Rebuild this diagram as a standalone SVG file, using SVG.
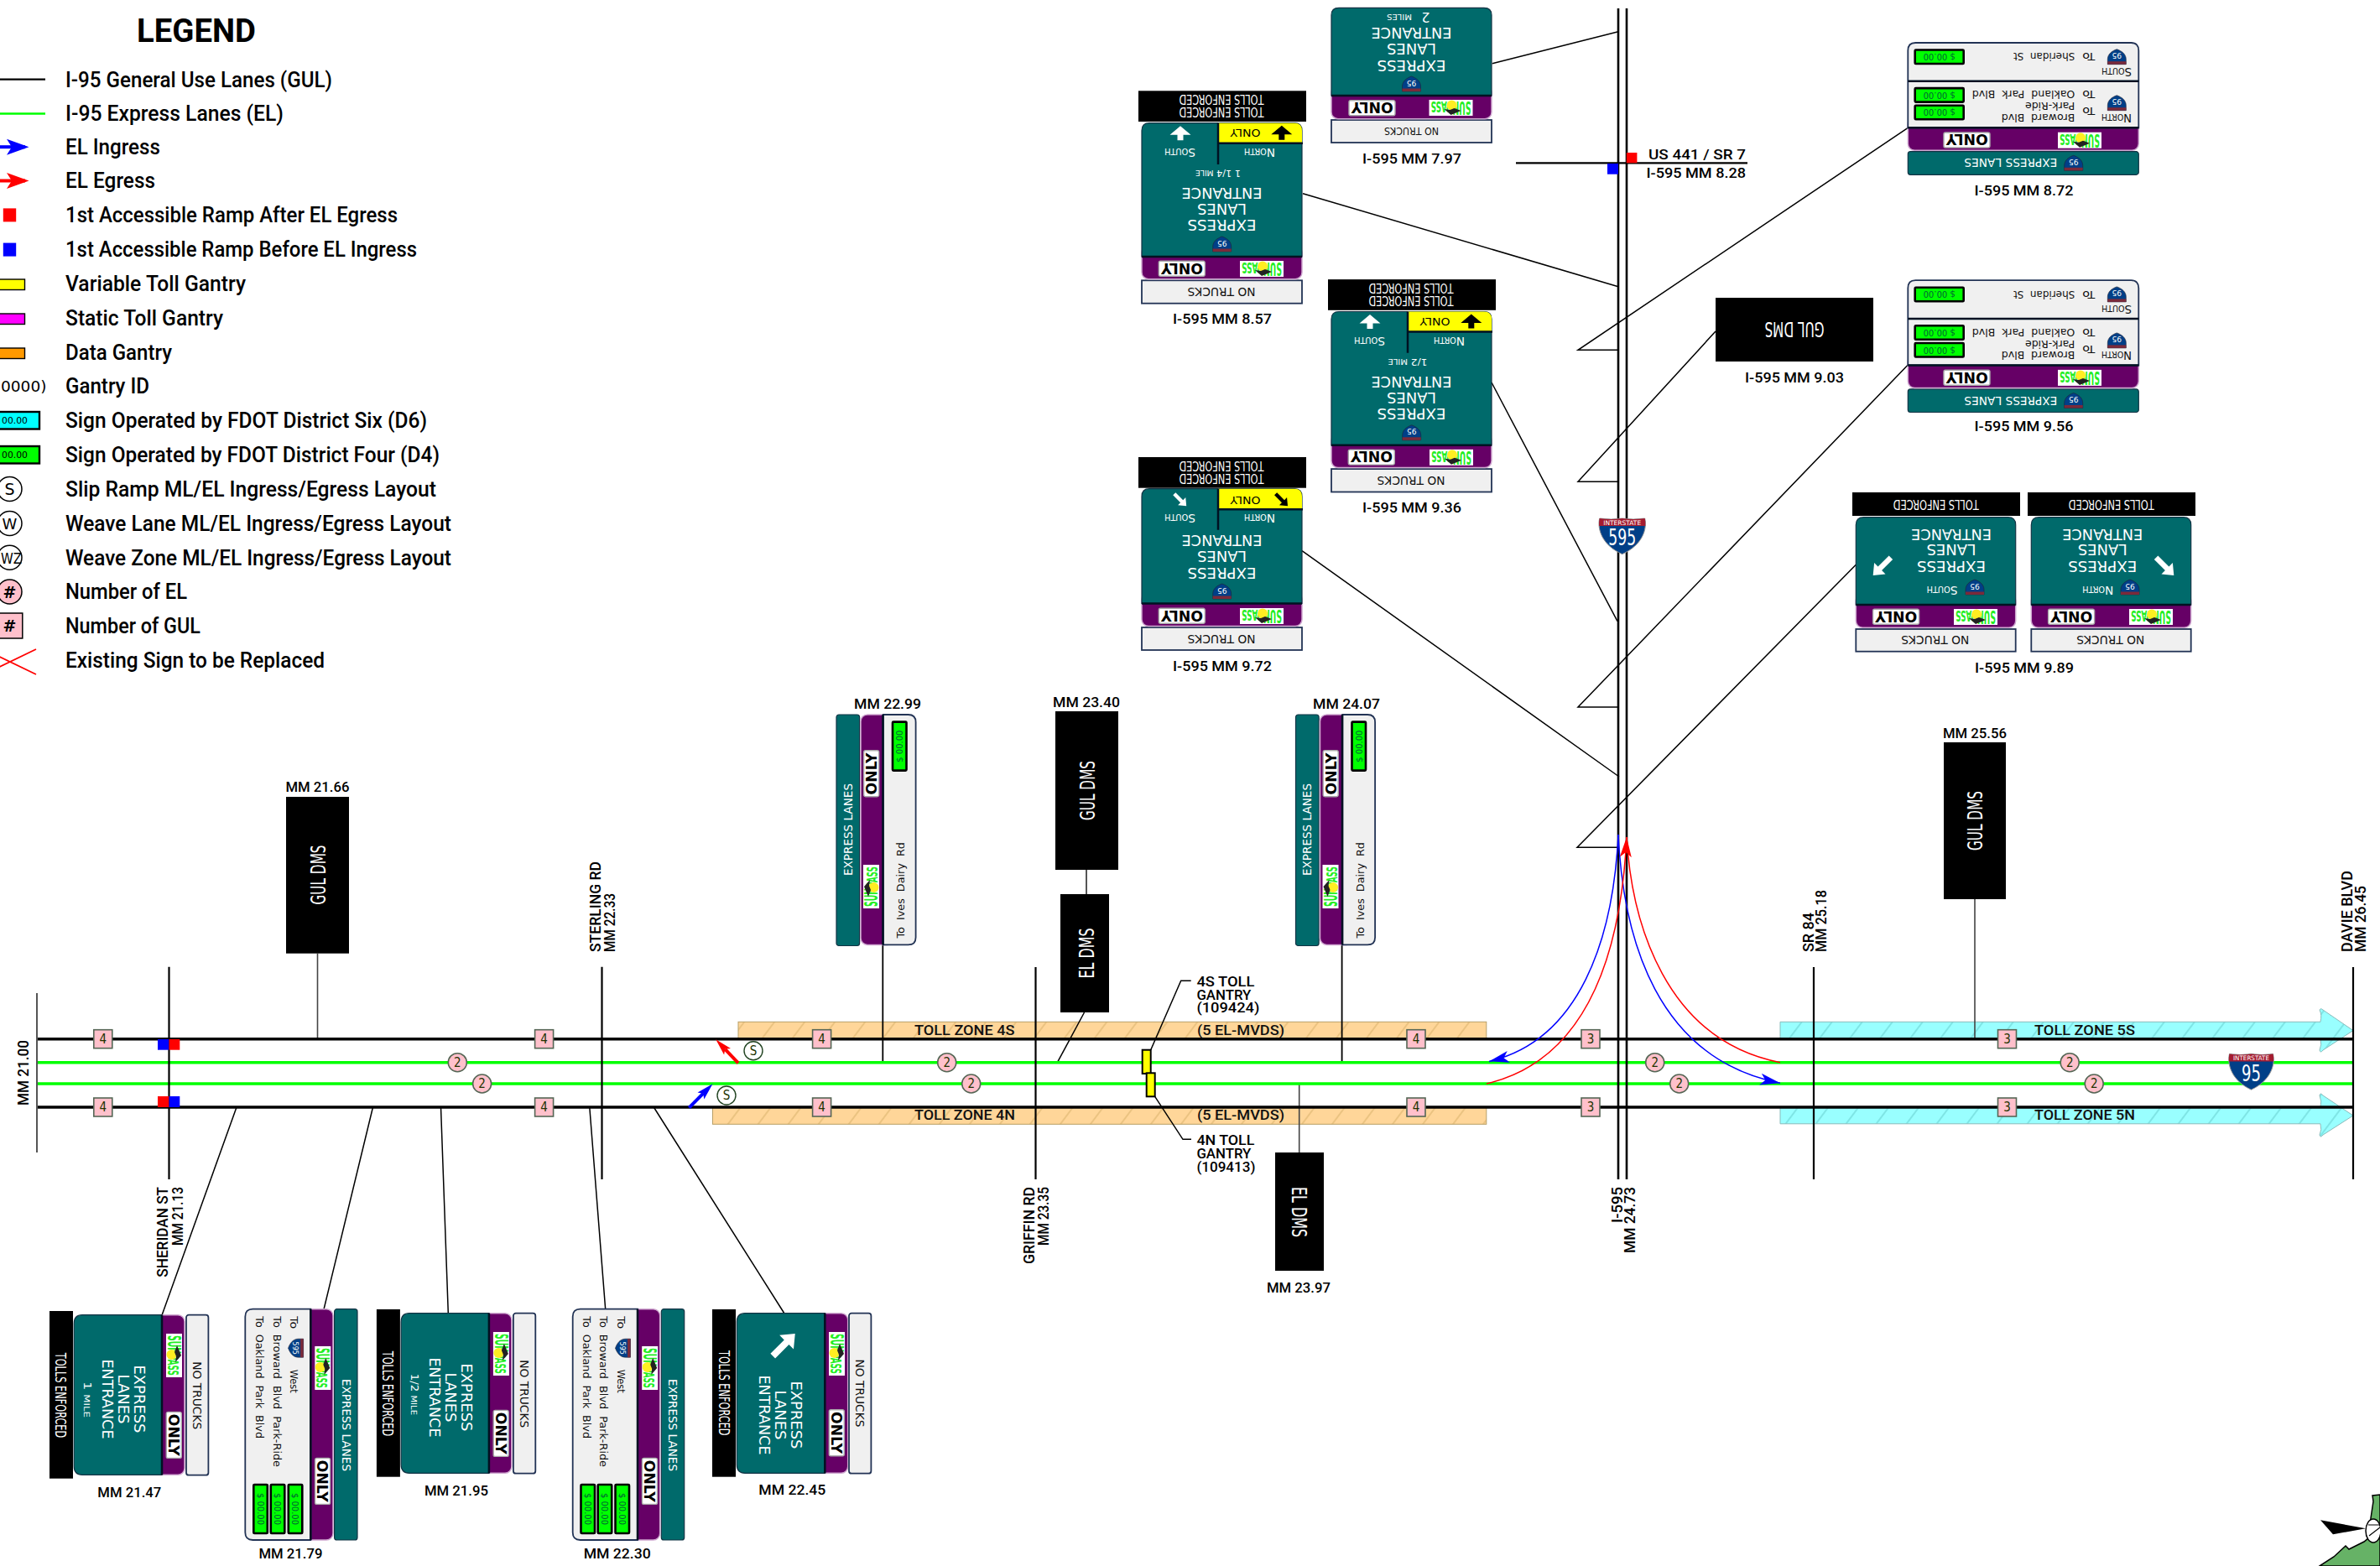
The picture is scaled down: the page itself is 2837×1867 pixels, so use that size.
<svg xmlns="http://www.w3.org/2000/svg" xmlns:xlink="http://www.w3.org/1999/xlink" width="2837" height="1867" viewBox="0 0 2837 1867">
<style>
text{font-family:"DejaVu Sans",sans-serif;fill:#000}
.r{font-family:Roboto,"DejaVu Sans",sans-serif;font-weight:500}
.lg{font-size:25px}
.m{text-anchor:middle}
.e{text-anchor:end}
.lb{font-size:16px}
.rd{font-size:18px}
.w{fill:#fff}
.big{font-size:18.5px;fill:#fff;text-anchor:middle}
.nt{font-size:14px;text-anchor:middle;fill:#111}
.te{font-size:16px;fill:#fff;text-anchor:middle;font-stretch:condensed}
.el{font-size:14px;fill:#fff;text-anchor:middle}
.sc{font-size:14px;fill:#fff;text-anchor:middle;font-variant:small-caps}
.sg{font-size:13px;fill:#111;word-spacing:4px}
.dms{font-size:25px;fill:#fff;text-anchor:middle;font-stretch:condensed}
.tz{font-size:16px;fill:#111}
.pt{font-size:10px;text-anchor:middle;fill:#063}
.nm{font-size:15px;text-anchor:middle;fill:#230;font-stretch:condensed}
.g{fill:#006a6b;stroke:#134;stroke-width:1.2}
.p{fill:#660066;stroke:#cfa8d0;stroke-width:1.5}
.n{fill:#f0f0f0;stroke:#235;stroke-width:1.8}
.k{fill:#000}
.dv{stroke:#012;stroke-width:2.5;fill:none}
.gul{stroke:#000;stroke-width:3.5;fill:none}
.el-line{stroke:#00ff00;stroke-width:3.5;fill:none}
.x{stroke:#000;stroke-width:2.2;fill:none}
.ld{stroke:#000;stroke-width:1.5;fill:none}
.st{stroke:#444;stroke-width:1.6;fill:none}
.sq{fill:#ffc0cb;stroke:#565;stroke-width:1.6}
</style>
<defs>
<pattern id="hO" width="28.8" height="10" patternUnits="userSpaceOnUse" patternTransform="rotate(36.9)"><rect width="28.8" height="10" fill="#ffd699"/><path d="M1 0V10" stroke="#d8b06a" stroke-width="1"/></pattern>
<pattern id="hC" width="28.8" height="10" patternUnits="userSpaceOnUse" patternTransform="rotate(36.9)"><rect width="28.8" height="10" fill="#99ffff"/><path d="M1 0V10" stroke="#66cccc" stroke-width="1"/></pattern>
<marker id="mB" markerUnits="userSpaceOnUse" markerWidth="24" markerHeight="14" viewBox="0 0 24 14" refX="24" refY="7" orient="auto"><path d="M0 0L24 7L0 14L6 7Z" fill="#0000ff"/></marker>
<marker id="mR" markerUnits="userSpaceOnUse" markerWidth="24" markerHeight="14" viewBox="0 0 24 14" refX="24" refY="7" orient="auto"><path d="M0 0L24 7L0 14L6 7Z" fill="#ff0000"/></marker>
<g id="only"><rect x=".7" y=".7" width="55" height="18" rx="2" fill="#fff" stroke="#aaa" stroke-width="1.4"/><text x="28" y="16.3" class="m" font-weight="700" font-size="18" textLength="50" lengthAdjust="spacingAndGlyphs">ONLY</text></g>
<g id="sp"><rect width="52" height="19" fill="#fff"/><text x="2" y="17" font-weight="700" font-size="21" style="fill:#22ee22" textLength="22" lengthAdjust="spacingAndGlyphs">SUN</text><text x="25" y="17" font-weight="700" font-size="18" style="fill:#22ee22" textLength="25" lengthAdjust="spacingAndGlyphs">PASS</text><circle cx="25" cy="12.5" r="6" fill="#ffee22"/><path d="M14 6L26 1L34 8L27 7L22 9Z" fill="#222"/></g>
<g id="s95"><path d="M-11 0H11V6C11 12 6 16 0 18C-6 16 -11 12 -11 6Z" fill="#003f87" stroke="#223" stroke-width=".6"/><rect x="-11" y="0" width="22" height="3.5" fill="#7a2a3a"/><text x="0" y="13.5" class="m w" font-size="9" style="fill:#fff">95</text></g>
<g id="s595"><path d="M-11 0H11V6C11 12 6 16 0 18C-6 16 -11 12 -11 6Z" fill="#003f87" stroke="#223" stroke-width=".6"/><rect x="-11" y="0" width="22" height="3.5" fill="#7a2a3a"/><text x="0" y="13" class="m" font-size="8" style="fill:#fff">595</text></g>
<path id="ar" d="M0 -8.5L12.5 2L3.5 2L3.5 8.5L-3.5 8.5L-3.5 2L-12.5 2Z"/>
<path id="ad" d="M0 -15L9.5 -3.5H3.2V15H-3.2V-3.5H-9.5Z"/>
<g id="pr"><rect width="58" height="16.5" rx="1" fill="#00ff00" stroke="#000" stroke-width="2.6"/><text x="29" y="12" class="pt">$ 00.00</text></g>
</defs>
<rect width="2837" height="1867" fill="#fff"/>

<g id="legend">
<text x="163" y="50" class="r" font-size="38" style="font-weight:700" textLength="142" lengthAdjust="spacingAndGlyphs">LEGEND</text>
<path d="M0 94.7H54" stroke="#000" stroke-width="2.2"/>
<path d="M0 135.5H54" stroke="#00ff00" stroke-width="2.6"/>
<path d="M0 175.2H30" stroke="#0000ff" stroke-width="4"/><path d="M8 165.7L34.5 175.2L8 184.7L14 175.2Z" fill="#0000ff"/>
<path d="M0 215.5H30" stroke="#ff0000" stroke-width="4"/><path d="M8 206L34.5 215.5L8 225L14 215.5Z" fill="#ff0000"/>
<rect x="3.8" y="248.4" width="15.4" height="16" fill="#ff0000"/>
<rect x="3.8" y="289.6" width="15.4" height="16" fill="#0000ff"/>
<rect x="-2" y="333" width="31.5" height="12.5" fill="#ffff00" stroke="#000" stroke-width="1.4"/>
<rect x="-2" y="374" width="31.5" height="12.5" fill="#ff00ff" stroke="#000" stroke-width="1.4"/>
<rect x="-2" y="415" width="31.5" height="12.5" fill="#ff9900" stroke="#000" stroke-width="1.4"/>
<text x="1" y="467" font-size="17" textLength="54.5" lengthAdjust="spacingAndGlyphs">0000)</text>
<rect x="-2" y="491" width="49" height="20.5" fill="#00ffff" stroke="#000" stroke-width="2.4"/><text x="2" y="505" font-size="11" textLength="31" lengthAdjust="spacingAndGlyphs">00.00</text>
<rect x="-2" y="532" width="49" height="20.5" fill="#00ff00" stroke="#000" stroke-width="2.4"/><text x="2" y="546" font-size="11" textLength="31" lengthAdjust="spacingAndGlyphs">00.00</text>
<circle cx="11.5" cy="583" r="14.5" fill="#fff" stroke="#000" stroke-width="1.5"/><text x="11.5" y="590" class="m" font-size="19">S</text>
<circle cx="11.5" cy="624" r="14.5" fill="#fff" stroke="#000" stroke-width="1.5"/><text x="11.5" y="631" class="m" font-size="18">W</text>
<circle cx="11.5" cy="664.8" r="14.5" fill="#fff" stroke="#000" stroke-width="1.5"/><text x="1" y="671.5" font-size="18" textLength="25" lengthAdjust="spacingAndGlyphs">WZ</text>
<circle cx="11.5" cy="705.5" r="14.5" fill="#ffc0cb" stroke="#000" stroke-width="1.5"/><text x="11.5" y="712.5" class="m" font-size="19" font-weight="700">#</text>
<rect x="-2" y="731" width="28.8" height="30" fill="#ffc0cb" stroke="#000" stroke-width="1.5"/><text x="11.5" y="753" class="m" font-size="19" font-weight="700">#</text>
<path d="M43 774L-19 804M43 804L-19 774" stroke="#ff0000" stroke-width="1.8"/>
<text x="78" y="103.5" class="r lg" textLength="318" lengthAdjust="spacingAndGlyphs">I-95 General Use Lanes (GUL)</text>
<text x="78" y="144.3" class="r lg" textLength="260" lengthAdjust="spacingAndGlyphs">I-95 Express Lanes (EL)</text>
<text x="78" y="184" class="r lg" textLength="113" lengthAdjust="spacingAndGlyphs">EL Ingress</text>
<text x="78" y="224.3" class="r lg" textLength="107" lengthAdjust="spacingAndGlyphs">EL Egress</text>
<text x="78" y="265" class="r lg" textLength="396" lengthAdjust="spacingAndGlyphs">1st Accessible Ramp After EL Egress</text>
<text x="78" y="306.3" class="r lg" textLength="419" lengthAdjust="spacingAndGlyphs">1st Accessible Ramp Before EL Ingress</text>
<text x="78" y="347" class="r lg" textLength="215" lengthAdjust="spacingAndGlyphs">Variable Toll Gantry</text>
<text x="78" y="388" class="r lg" textLength="188" lengthAdjust="spacingAndGlyphs">Static Toll Gantry</text>
<text x="78" y="428.7" class="r lg" textLength="127" lengthAdjust="spacingAndGlyphs">Data Gantry</text>
<text x="78" y="469" class="r lg" textLength="100" lengthAdjust="spacingAndGlyphs">Gantry ID</text>
<text x="78" y="510" class="r lg" textLength="431" lengthAdjust="spacingAndGlyphs">Sign Operated by FDOT District Six (D6)</text>
<text x="78" y="551" class="r lg" textLength="446" lengthAdjust="spacingAndGlyphs">Sign Operated by FDOT District Four (D4)</text>
<text x="78" y="591.7" class="r lg" textLength="442" lengthAdjust="spacingAndGlyphs">Slip Ramp ML/EL Ingress/Egress Layout</text>
<text x="78" y="632.7" class="r lg" textLength="460" lengthAdjust="spacingAndGlyphs">Weave Lane ML/EL Ingress/Egress Layout</text>
<text x="78" y="673.5" class="r lg" textLength="460" lengthAdjust="spacingAndGlyphs">Weave Zone ML/EL Ingress/Egress Layout</text>
<text x="78" y="714.2" class="r lg" textLength="145" lengthAdjust="spacingAndGlyphs">Number of EL</text>
<text x="78" y="755" class="r lg" textLength="161" lengthAdjust="spacingAndGlyphs">Number of GUL</text>
<text x="78" y="795.7" class="r lg" textLength="309" lengthAdjust="spacingAndGlyphs">Existing Sign to be Replaced</text>
</g>

<g id="toll-zones">
<rect x="880" y="1218.3" width="891.8" height="20.4" fill="url(#hO)" stroke="#b89f66" stroke-width="1"/>
<rect x="849.5" y="1320" width="922.3" height="20.3" fill="url(#hO)" stroke="#b89f66" stroke-width="1"/>
<path d="M2122 1218.3H2766Q2768 1210 2765 1204Q2766 1201 2769 1204L2805 1228.6L2769 1252Q2766 1256 2765 1252Q2768 1245 2766 1238.7H2122Z" fill="url(#hC)" stroke="#88bbbb" stroke-width="1"/>
<path d="M2122 1339.8H2766Q2768 1347 2765 1353Q2766 1357 2769 1353L2805 1330L2769 1306Q2766 1302 2765 1306Q2768 1313 2766 1320H2122Z" fill="url(#hC)" stroke="#88bbbb" stroke-width="1"/>
<text x="1090" y="1234" class="r tz" textLength="119.5" lengthAdjust="spacingAndGlyphs">TOLL ZONE 4S</text>
<text x="1427" y="1234" class="r tz" textLength="104" lengthAdjust="spacingAndGlyphs">(5 EL-MVDS)</text>
<text x="1090" y="1335.3" class="r tz" textLength="120" lengthAdjust="spacingAndGlyphs">TOLL ZONE 4N</text>
<text x="1427" y="1335.3" class="r tz" textLength="104" lengthAdjust="spacingAndGlyphs">(5 EL-MVDS)</text>
<text x="2425" y="1234.4" class="r tz" textLength="120" lengthAdjust="spacingAndGlyphs">TOLL ZONE 5S</text>
<text x="2425" y="1335.3" class="r tz" textLength="120" lengthAdjust="spacingAndGlyphs">TOLL ZONE 5N</text>
</g>

<g id="connectors">
<path class="ld" d="M282 1320L193 1568M444.5 1320L386 1561M525.5 1320L534.3 1566M702.8 1320L721.7 1561M779.3 1320L935 1566"/>
<path class="st" d="M378.5 1136.7V1238.7M2354 1072V1238.7M1548.7 1292V1374"/>
<path d="M1295 1037V1066" stroke="#555" stroke-width="2"/>
<path class="ld" d="M1292.5 1207L1260.4 1266.7"/>
<path class="x" d="M1052.3 1126V1266.4M1599.6 1126V1266.4" style="stroke-width:1.8"/>
<path class="ld" d="M1371.7 1251.7L1407.7 1169.3H1419.7M1376.7 1307.3L1410 1358.3H1420"/>
<path class="ld" d="M1778.8 75.7L1929 37.7M1553 230.7L1929 341.7M2274.3 152.3L1881 417.3H1929M2045 395L1881 574.3H1929M2274.3 435L1881 843H1929M1778 456L1928 740.7M1552 656.7L1930 926M2212.3 673.3L1880 1010.3H1929"/>
</g>

<g id="roads">
<path class="el-line" d="M44 1266.7H2805M44 1292H2805"/>
<path class="gul" d="M44 1238.7H2805M44 1320H2805"/>
<path d="M44 1184V1374" stroke="#555" stroke-width="2"/>
<path class="x" d="M201.5 1152.7V1406M717.5 1152.7V1406M1234.5 1153V1406M2162 1153V1406M2805 1153V1406"/>
<path class="x" d="M1929 10V1406M1939 10V1406" style="stroke-width:2.6"/>
<path d="M1807 194.3H2083" stroke="#000" stroke-width="2.2"/>
<rect x="188" y="1239" width="13.5" height="12.7" fill="#0000ff"/><rect x="201.5" y="1239" width="12.8" height="12.7" fill="#ff0000"/>
<rect x="188" y="1307" width="13.5" height="13" fill="#ff0000"/><rect x="201.5" y="1307" width="12.8" height="13" fill="#0000ff"/>
<rect x="1938.8" y="182" width="12.6" height="12.3" fill="#ff0000"/><rect x="1916" y="195" width="13" height="12.7" fill="#0000ff"/>
</g>

<g id="ramps">
<path d="M1929 995C1923 1120 1883 1240 1775 1265.4" fill="none" stroke="#0000ff" stroke-width="1.5" marker-end="url(#mB)"/>
<path d="M1929 995C1935 1120 1975 1262 2122 1291.3" fill="none" stroke="#0000ff" stroke-width="1.5" marker-end="url(#mB)"/>
<path d="M1772 1292C1900 1262 1933 1120 1939 998" fill="none" stroke="#ff0000" stroke-width="1.5" marker-end="url(#mR)"/>
<path d="M2122 1266.7C1985 1240 1945 1100 1939 998" fill="none" stroke="#ff0000" stroke-width="1.5"/>
<path d="M880 1267.3L864.3 1250.8" stroke="#ff0000" stroke-width="4"/>
<path d="M853.3 1239.3L871 1249.9L864.3 1250.8L863.1 1257.5Z" fill="#ff0000"/>
<path d="M821.4 1320.7L838.2 1303.7" stroke="#0000ff" stroke-width="4"/>
<path d="M849.5 1292.3L839.3 1310.4L838.2 1303.7L831.5 1302.6Z" fill="#0000ff"/>
</g>

<g id="lane-counts">
<g class="sq">
<rect x="111.8" y="1227.7" width="22" height="22"/><rect x="111.8" y="1309" width="22" height="22"/>
<rect x="637.6" y="1227.7" width="22" height="22"/><rect x="637.6" y="1309" width="22" height="22"/>
<rect x="968.6" y="1227.7" width="22" height="22"/><rect x="968.6" y="1309" width="22" height="22"/>
<rect x="1677" y="1227.7" width="22" height="22"/><rect x="1677" y="1309" width="22" height="22"/>
<rect x="1885" y="1227.7" width="22" height="22"/><rect x="1885" y="1309" width="22" height="22"/>
<rect x="2381.5" y="1227.7" width="22" height="22"/><rect x="2381.5" y="1309" width="22" height="22"/>
<circle cx="545.3" cy="1266.7" r="11"/><circle cx="574.6" cy="1292" r="11"/>
<circle cx="1128.7" cy="1266.7" r="11"/><circle cx="1157.7" cy="1292" r="11"/>
<circle cx="1972.7" cy="1266.7" r="11"/><circle cx="2001.7" cy="1292" r="11"/>
<circle cx="2467.2" cy="1266.7" r="11"/><circle cx="2496.2" cy="1292" r="11"/>
</g>
<circle cx="898" cy="1252.7" r="11" fill="#fff" stroke="#242" stroke-width="1.4"/><circle cx="866" cy="1306" r="11" fill="#fff" stroke="#242" stroke-width="1.4"/>
<text x="122.8" y="1244" class="nm">4</text><text x="122.8" y="1325.3" class="nm">4</text>
<text x="648.6" y="1244" class="nm">4</text><text x="648.6" y="1325.3" class="nm">4</text>
<text x="979.6" y="1244" class="nm">4</text><text x="979.6" y="1325.3" class="nm">4</text>
<text x="1688" y="1244" class="nm">4</text><text x="1688" y="1325.3" class="nm">4</text>
<text x="1896" y="1244" class="nm">3</text><text x="1896" y="1325.3" class="nm">3</text>
<text x="2392.5" y="1244" class="nm">3</text><text x="2392.5" y="1325.3" class="nm">3</text>
<text x="545.3" y="1272" class="nm">2</text><text x="574.6" y="1297.3" class="nm">2</text>
<text x="1128.7" y="1272" class="nm">2</text><text x="1157.7" y="1297.3" class="nm">2</text>
<text x="1972.7" y="1272" class="nm">2</text><text x="2001.7" y="1297.3" class="nm">2</text>
<text x="2467.2" y="1272" class="nm">2</text><text x="2496.2" y="1297.3" class="nm">2</text>
<text x="898" y="1258" class="nm">S</text><text x="866" y="1311.3" class="nm">S</text>
</g>

<g id="gantries">
<rect x="1361.7" y="1251.7" width="10" height="28.3" fill="#ffff00" stroke="#000" stroke-width="2"/>
<rect x="1366.7" y="1279.3" width="10" height="28" fill="#ffff00" stroke="#000" stroke-width="2"/>
<text x="1426.4" y="1176.4" class="r lb" textLength="69" lengthAdjust="spacingAndGlyphs">4S TOLL</text>
<text x="1426.4" y="1192" class="r lb" textLength="65" lengthAdjust="spacingAndGlyphs">GANTRY</text>
<text x="1426.4" y="1206.8" class="r lb" textLength="75" lengthAdjust="spacingAndGlyphs">(109424)</text>
<text x="1426.4" y="1365" class="r lb" textLength="69" lengthAdjust="spacingAndGlyphs">4N TOLL</text>
<text x="1426.4" y="1381" class="r lb" textLength="65" lengthAdjust="spacingAndGlyphs">GANTRY</text>
<text x="1426.4" y="1396.5" class="r lb" textLength="70" lengthAdjust="spacingAndGlyphs">(109413)</text>
</g>

<g id="road-labels">
<text transform="translate(34,1279) rotate(-90)" class="r rd m" textLength="78" lengthAdjust="spacingAndGlyphs">MM 21.00</text>
<text transform="translate(200,1415) rotate(-90)" class="r rd e" textLength="107.7" lengthAdjust="spacingAndGlyphs">SHERIDAN ST</text>
<text transform="translate(218,1415) rotate(-90)" class="r rd e" textLength="70" lengthAdjust="spacingAndGlyphs">MM 21.13</text>
<text transform="translate(716,1135) rotate(-90)" class="r rd" textLength="108" lengthAdjust="spacingAndGlyphs">STERLING RD</text>
<text transform="translate(733,1135) rotate(-90)" class="r rd" textLength="70" lengthAdjust="spacingAndGlyphs">MM 22.33</text>
<text transform="translate(1233,1415) rotate(-90)" class="r rd e" textLength="92" lengthAdjust="spacingAndGlyphs">GRIFFIN RD</text>
<text transform="translate(1250,1415) rotate(-90)" class="r rd e" textLength="70" lengthAdjust="spacingAndGlyphs">MM 23.35</text>
<text transform="translate(1933.5,1415) rotate(-90)" class="r rd e" textLength="43" lengthAdjust="spacingAndGlyphs">I-595</text>
<text transform="translate(1949,1415) rotate(-90)" class="r rd e" textLength="79" lengthAdjust="spacingAndGlyphs">MM 24.73</text>
<text transform="translate(2162,1135) rotate(-90)" class="r rd" textLength="47" lengthAdjust="spacingAndGlyphs">SR 84</text>
<text transform="translate(2177,1135) rotate(-90)" class="r rd" textLength="74" lengthAdjust="spacingAndGlyphs">MM 25.18</text>
<text transform="translate(2804,1135) rotate(-90)" class="r rd" textLength="97" lengthAdjust="spacingAndGlyphs">DAVIE BLVD</text>
<text transform="translate(2820,1135) rotate(-90)" class="r rd" textLength="79" lengthAdjust="spacingAndGlyphs">MM 26.45</text>
<text x="1965" y="189.5" class="r lb" textLength="116" lengthAdjust="spacingAndGlyphs">US 441 / SR 7</text>
<text x="1962.5" y="211.7" class="r lb" textLength="118.5" lengthAdjust="spacingAndGlyphs">I-595 MM 8.28</text>
</g>

<g id="shield-595"><g transform="translate(1933.7,617)"><path d="M-27 1Q-13 3 0 1Q13 3 27 1C30 14 24 33 0 43.7C-24 33 -30 14 -27 1Z" fill="#003f87" stroke="#999" stroke-width="1"/><path d="M-27 1Q-13 3 0 1Q13 3 27 1Q28 5 27.6 10H-27.6Q-28 5 -27 1Z" fill="#a51c30"/><text x="0" y="8.7" class="m" font-size="7.5" style="fill:#fff" textLength="45" lengthAdjust="spacingAndGlyphs">INTERSTATE</text><text x="0" y="33" class="m" font-size="27" style="fill:#fff" textLength="33" lengthAdjust="spacingAndGlyphs">595</text></g></g>
<g id="shield-95"><g transform="translate(2683.5,1255.5)"><path d="M-26 1Q-13 3 0 1Q13 3 26 1C29 14 23 33 0 43.7C-23 33 -29 14 -26 1Z" fill="#003f87" stroke="#999" stroke-width="1"/><path d="M-26 1Q-13 3 0 1Q13 3 26 1Q27 5 26.6 10H-26.6Q-27 5 -26 1Z" fill="#a51c30"/><text x="0" y="8.7" class="m" font-size="7.5" style="fill:#fff" textLength="43" lengthAdjust="spacingAndGlyphs">INTERSTATE</text><text x="0" y="33" class="m" font-size="27" style="fill:#fff" textLength="23" lengthAdjust="spacingAndGlyphs">95</text></g></g>

<!-- upside-down entrance signs -->
<g id="sign-595-797" transform="translate(1778,170) rotate(180)">
<rect class="n" x="0" y="0" width="191" height="27"/>
<rect class="p" x="0" y="28.3" width="191" height="40" rx="8"/>
<path class="g" d="M0 56H191V152Q191 160.7 182 160.7H9Q0 160.7 0 152Z"/>
<path class="dv" d="M0 56H191"/>
<text x="95.5" y="18" class="nt" style="font-size:11.5px" textLength="65" lengthAdjust="spacingAndGlyphs">NO TRUCKS</text>
<use href="#sp" x="22.5" y="32"/><use href="#only" x="114.3" y="31.5"/>
<use href="#s95" x="95.5" y="61"/>
<text x="95.5" y="98.3" class="big" textLength="82" lengthAdjust="spacingAndGlyphs">EXPRESS</text>
<text x="95.5" y="117.7" class="big" textLength="59" lengthAdjust="spacingAndGlyphs">LANES</text>
<text x="95.5" y="136.7" class="big" textLength="96" lengthAdjust="spacingAndGlyphs">ENTRANCE</text>
<text x="73.5" y="155" style="fill:#fff;font-size:15px" textLength="10" lengthAdjust="spacingAndGlyphs">2</text>
<text x="95" y="152.7" style="fill:#fff;font-size:9px" textLength="30" lengthAdjust="spacingAndGlyphs">MILES</text>
</g>
<text id="label-595-797" x="1683" y="195" class="r lb m" textLength="118" lengthAdjust="spacingAndGlyphs">I-595 MM 7.97</text>

<g id="sign-595-857" transform="translate(1552,361.7) rotate(180)">
<rect class="n" x="0" y="0" width="191" height="27.4"/>
<rect class="p" x="0" y="29" width="191" height="40" rx="8"/>
<path class="g" d="M0 55.7H191V206Q191 215 182 215H9Q0 215 0 206Z"/>
<path class="dv" d="M0 55.7H191"/>
<path d="M0 191H100V215H9Q0 215 0 206Z" fill="#ffff00"/>
<path class="dv" d="M-1 191H100M100 165.7V215"/>
<rect class="k" x="-5" y="216.7" width="200" height="36.7"/>
<text x="96" y="18.5" class="nt" textLength="81" lengthAdjust="spacingAndGlyphs">NO TRUCKS</text>
<use href="#sp" x="22" y="31.7"/><use href="#only" x="115" y="31.7"/>
<use href="#s95" x="95.3" y="61.7"/>
<text x="95.5" y="99.4" class="big" textLength="82" lengthAdjust="spacingAndGlyphs">EXPRESS</text>
<text x="95.5" y="118.4" class="big" textLength="59" lengthAdjust="spacingAndGlyphs">LANES</text>
<text x="95.5" y="137.7" class="big" textLength="96" lengthAdjust="spacingAndGlyphs">ENTRANCE</text>
<text x="100" y="158.4" class="m" style="fill:#fff;font-size:11px" textLength="54" lengthAdjust="spacingAndGlyphs">1 1/4 <tspan style="font-size:9px">MILE</tspan></text>
<text x="50.5" y="185" class="sc" textLength="37" lengthAdjust="spacingAndGlyphs">North</text>
<text x="145.5" y="185" class="sc" textLength="37" lengthAdjust="spacingAndGlyphs">South</text>
<use href="#ar" transform="translate(145,203) rotate(180)" fill="#fff"/>
<use href="#ar" transform="translate(24.2,203.4) rotate(180)" fill="#000"/>
<text x="67.5" y="208" class="m" font-size="13" textLength="36" lengthAdjust="spacingAndGlyphs">ONLY</text>
<text x="96" y="233.4" class="te" textLength="101" lengthAdjust="spacingAndGlyphs">TOLLS ENFORCED</text>
<text x="96" y="249" class="te" textLength="101" lengthAdjust="spacingAndGlyphs">TOLLS ENFORCED</text>
</g>
<text id="label-595-857" x="1457" y="386" class="r lb m" textLength="118" lengthAdjust="spacingAndGlyphs">I-595 MM 8.57</text>

<g id="sign-595-936" transform="translate(1778,586.5) rotate(180)">
<rect class="n" x="0" y="0" width="191" height="27.4"/>
<rect class="p" x="0" y="29" width="191" height="40" rx="8"/>
<path class="g" d="M0 55.7H191V206Q191 215 182 215H9Q0 215 0 206Z"/>
<path class="dv" d="M0 55.7H191"/>
<path d="M0 191H100V215H9Q0 215 0 206Z" fill="#ffff00"/>
<path class="dv" d="M-1 191H100M100 165.7V215"/>
<rect class="k" x="-5" y="216.7" width="200" height="36.7"/>
<text x="96" y="18.5" class="nt" textLength="81" lengthAdjust="spacingAndGlyphs">NO TRUCKS</text>
<use href="#sp" x="22" y="31.7"/><use href="#only" x="115" y="31.7"/>
<use href="#s95" x="95.3" y="61.7"/>
<text x="95.5" y="99.4" class="big" textLength="82" lengthAdjust="spacingAndGlyphs">EXPRESS</text>
<text x="95.5" y="118.4" class="big" textLength="59" lengthAdjust="spacingAndGlyphs">LANES</text>
<text x="95.5" y="137.7" class="big" textLength="96" lengthAdjust="spacingAndGlyphs">ENTRANCE</text>
<text x="100" y="158.4" class="m" style="fill:#fff;font-size:11px" textLength="47" lengthAdjust="spacingAndGlyphs">1/2 <tspan style="font-size:9px">MILE</tspan></text>
<text x="50.5" y="185" class="sc" textLength="37" lengthAdjust="spacingAndGlyphs">North</text>
<text x="145.5" y="185" class="sc" textLength="37" lengthAdjust="spacingAndGlyphs">South</text>
<use href="#ar" transform="translate(145,203) rotate(180)" fill="#fff"/>
<use href="#ar" transform="translate(24.2,203.4) rotate(180)" fill="#000"/>
<text x="67.5" y="208" class="m" font-size="13" textLength="36" lengthAdjust="spacingAndGlyphs">ONLY</text>
<text x="96" y="233.4" class="te" textLength="101" lengthAdjust="spacingAndGlyphs">TOLLS ENFORCED</text>
<text x="96" y="249" class="te" textLength="101" lengthAdjust="spacingAndGlyphs">TOLLS ENFORCED</text>
</g>
<text id="label-595-936" x="1683" y="610.5" class="r lb m" textLength="118" lengthAdjust="spacingAndGlyphs">I-595 MM 9.36</text>

<g id="sign-595-972" transform="translate(1552,775) rotate(180)">
<rect class="n" x="0" y="0" width="191" height="27"/>
<rect class="p" x="0" y="28.5" width="191" height="40" rx="8"/>
<path class="g" d="M0 55.5H191V183Q191 192.3 182 192.3H9Q0 192.3 0 183Z"/>
<path class="dv" d="M0 55.5H191"/>
<path d="M0 167.7H100V192.3H9Q0 192.3 0 183Z" fill="#ffff00"/>
<path class="dv" d="M-1 167.7H100M100 143.3V192.3"/>
<rect class="k" x="-5" y="193.3" width="200" height="36.7"/>
<text x="96" y="18" class="nt" textLength="81" lengthAdjust="spacingAndGlyphs">NO TRUCKS</text>
<use href="#sp" x="22" y="31"/><use href="#only" x="115" y="31"/>
<use href="#s95" x="95.3" y="61"/>
<text x="95.5" y="98.3" class="big" textLength="82" lengthAdjust="spacingAndGlyphs">EXPRESS</text>
<text x="95.5" y="117.7" class="big" textLength="59" lengthAdjust="spacingAndGlyphs">LANES</text>
<text x="95.5" y="136.7" class="big" textLength="96" lengthAdjust="spacingAndGlyphs">ENTRANCE</text>
<text x="50.5" y="161.7" class="sc" textLength="37" lengthAdjust="spacingAndGlyphs">North</text>
<text x="145.5" y="161.7" class="sc" textLength="37" lengthAdjust="spacingAndGlyphs">South</text>
<use href="#ad" transform="translate(145,179) rotate(-45) scale(.68)" fill="#fff"/>
<use href="#ad" transform="translate(24.2,179) rotate(-45) scale(.68)" fill="#000"/>
<text x="67.5" y="183.5" class="m" font-size="13" textLength="36" lengthAdjust="spacingAndGlyphs">ONLY</text>
<text x="96" y="210" class="te" textLength="101" lengthAdjust="spacingAndGlyphs">TOLLS ENFORCED</text>
<text x="96" y="225" class="te" textLength="101" lengthAdjust="spacingAndGlyphs">TOLLS ENFORCED</text>
</g>
<text id="label-595-972" x="1457" y="799.5" class="r lb m" textLength="118" lengthAdjust="spacingAndGlyphs">I-595 MM 9.72</text>

<g id="sign-595-989-s" transform="translate(2402.7,776.7) rotate(180)">
<rect class="n" x="0" y="0" width="190.4" height="26.7"/>
<rect class="p" x="0" y="28.4" width="190.4" height="40" rx="8"/>
<path class="g" d="M0 55.7H190.4V151Q190.4 160 181 160H9Q0 160 0 151Z"/>
<path class="dv" d="M0 55.7H190.4"/>
<rect class="k" x="-5.3" y="161.7" width="200" height="28"/>
<text x="96" y="18.4" class="nt" textLength="81" lengthAdjust="spacingAndGlyphs">NO TRUCKS</text>
<use href="#sp" x="21.7" y="31.7"/><use href="#only" x="114.4" y="31.7"/>
<use href="#s95" x="48.7" y="67.7"/>
<text x="87.7" y="77.4" class="sc" textLength="37" lengthAdjust="spacingAndGlyphs">South</text>
<text x="76.7" y="108" class="big" textLength="82" lengthAdjust="spacingAndGlyphs">EXPRESS</text>
<text x="76.7" y="127.4" class="big" textLength="59" lengthAdjust="spacingAndGlyphs">LANES</text>
<text x="76.7" y="146" class="big" textLength="96" lengthAdjust="spacingAndGlyphs">ENTRANCE</text>
<use href="#ad" transform="translate(159.4,101.4) rotate(45)" fill="#fff"/>
<text x="95" y="180.7" class="te" style="font-size:15px" textLength="102" lengthAdjust="spacingAndGlyphs">TOLLS ENFORCED</text>
</g>
<g id="sign-595-989-n" transform="translate(2611.7,776.7) rotate(180)">
<rect class="n" x="0" y="0" width="190.4" height="26.7"/>
<rect class="p" x="0" y="28.4" width="190.4" height="40" rx="8"/>
<path class="g" d="M0 55.7H190.4V151Q190.4 160 181 160H9Q0 160 0 151Z"/>
<path class="dv" d="M0 55.7H190.4"/>
<rect class="k" x="-5.3" y="161.7" width="200" height="28"/>
<text x="96" y="18.4" class="nt" textLength="81" lengthAdjust="spacingAndGlyphs">NO TRUCKS</text>
<use href="#sp" x="21.7" y="31.7"/><use href="#only" x="114.4" y="31.7"/>
<use href="#s95" x="72.7" y="67.7"/>
<text x="111" y="77.4" class="sc" textLength="37" lengthAdjust="spacingAndGlyphs">North</text>
<text x="105.5" y="108" class="big" textLength="82" lengthAdjust="spacingAndGlyphs">EXPRESS</text>
<text x="105.5" y="127.4" class="big" textLength="59" lengthAdjust="spacingAndGlyphs">LANES</text>
<text x="105.5" y="146" class="big" textLength="96" lengthAdjust="spacingAndGlyphs">ENTRANCE</text>
<use href="#ad" transform="translate(31,101.4) rotate(-45)" fill="#fff"/>
<text x="95" y="180.7" class="te" style="font-size:15px" textLength="102" lengthAdjust="spacingAndGlyphs">TOLLS ENFORCED</text>
</g>
<text id="label-595-989" x="2413" y="801.7" class="r lb m" textLength="118" lengthAdjust="spacingAndGlyphs">I-595 MM 9.89</text>

<!-- price signs upside down -->
<g id="sign-595-872" transform="translate(2549.3,208.3) rotate(180)">
<rect class="g" x="0" y="0" width="275" height="27.6" rx="3"/>
<rect class="p" x="0" y="29" width="275" height="40" rx="8"/>
<path class="n" d="M0 56H275V148Q275 157.3 266 157.3H9Q0 157.3 0 148Z"/>
<path class="dv" d="M0 56H275M0 111.6H275"/>
<use href="#s95" x="77.6" y="5"/>
<text x="97" y="19" class="el" style="text-anchor:start" textLength="111" lengthAdjust="spacingAndGlyphs">EXPRESS LANES</text>
<use href="#sp" x="44.3" y="31.6"/><use href="#only" x="176.6" y="31.6"/>
<text x="8.3" y="72.3" class="sc" style="fill:#111;text-anchor:start" textLength="36" lengthAdjust="spacingAndGlyphs">North</text>
<use href="#s95" x="26" y="76.6"/>
<text x="52" y="80" class="sg" textLength="15" lengthAdjust="spacingAndGlyphs">To</text>
<text x="76" y="72.3" class="sg" textLength="87.6" lengthAdjust="spacingAndGlyphs">Broward Blvd</text>
<text x="76" y="86" class="sg" textLength="59.3" lengthAdjust="spacingAndGlyphs">Park-Ride</text>
<text x="52" y="100" class="sg" textLength="15" lengthAdjust="spacingAndGlyphs">To</text>
<text x="76" y="100" class="sg" textLength="122.6" lengthAdjust="spacingAndGlyphs">Oakland Park Blvd</text>
<use href="#pr" x="208.6" y="66"/><use href="#pr" x="208.6" y="86.7"/>
<text x="8.3" y="127.6" class="sc" style="fill:#111;text-anchor:start" textLength="36" lengthAdjust="spacingAndGlyphs">South</text>
<use href="#s95" x="26" y="131.6"/>
<text x="52" y="145" class="sg" textLength="15" lengthAdjust="spacingAndGlyphs">To</text>
<text x="76" y="145" class="sg" textLength="73.3" lengthAdjust="spacingAndGlyphs">Sheridan St</text>
<use href="#pr" x="208.6" y="132.3"/>
</g>
<text id="label-595-872" x="2412.5" y="232.7" class="r lb m" textLength="118" lengthAdjust="spacingAndGlyphs">I-595 MM 8.72</text>

<g id="sign-595-956" transform="translate(2549.3,491.5) rotate(180)">
<rect class="g" x="0" y="0" width="275" height="27.6" rx="3"/>
<rect class="p" x="0" y="29" width="275" height="40" rx="8"/>
<path class="n" d="M0 56H275V148Q275 157.3 266 157.3H9Q0 157.3 0 148Z"/>
<path class="dv" d="M0 56H275M0 111.6H275"/>
<use href="#s95" x="77.6" y="5"/>
<text x="97" y="19" class="el" style="text-anchor:start" textLength="111" lengthAdjust="spacingAndGlyphs">EXPRESS LANES</text>
<use href="#sp" x="44.3" y="31.6"/><use href="#only" x="176.6" y="31.6"/>
<text x="8.3" y="72.3" class="sc" style="fill:#111;text-anchor:start" textLength="36" lengthAdjust="spacingAndGlyphs">North</text>
<use href="#s95" x="26" y="76.6"/>
<text x="52" y="80" class="sg" textLength="15" lengthAdjust="spacingAndGlyphs">To</text>
<text x="76" y="72.3" class="sg" textLength="87.6" lengthAdjust="spacingAndGlyphs">Broward Blvd</text>
<text x="76" y="86" class="sg" textLength="59.3" lengthAdjust="spacingAndGlyphs">Park-Ride</text>
<text x="52" y="100" class="sg" textLength="15" lengthAdjust="spacingAndGlyphs">To</text>
<text x="76" y="100" class="sg" textLength="122.6" lengthAdjust="spacingAndGlyphs">Oakland Park Blvd</text>
<use href="#pr" x="208.6" y="66"/><use href="#pr" x="208.6" y="86.7"/>
<text x="8.3" y="127.6" class="sc" style="fill:#111;text-anchor:start" textLength="36" lengthAdjust="spacingAndGlyphs">South</text>
<use href="#s95" x="26" y="131.6"/>
<text x="52" y="145" class="sg" textLength="15" lengthAdjust="spacingAndGlyphs">To</text>
<text x="76" y="145" class="sg" textLength="73.3" lengthAdjust="spacingAndGlyphs">Sheridan St</text>
<use href="#pr" x="208.6" y="132.3"/>
</g>
<text id="label-595-956" x="2412.5" y="514" class="r lb m" textLength="118" lengthAdjust="spacingAndGlyphs">I-595 MM 9.56</text>

<!-- DMS -->
<g id="dms-595-903"><rect class="k" x="2045" y="355" width="188" height="76"/><text transform="translate(2139,384) rotate(180)" class="dms" textLength="71" lengthAdjust="spacingAndGlyphs">GUL DMS</text><text x="2139" y="456" class="r lb m" textLength="118" lengthAdjust="spacingAndGlyphs">I-595 MM 9.03</text></g>
<g id="dms-2166"><rect class="k" x="341" y="950" width="75" height="186.7"/><text transform="translate(387.5,1043) rotate(-90)" class="dms" textLength="71" lengthAdjust="spacingAndGlyphs">GUL DMS</text><text x="378.5" y="944" class="r lb m" textLength="76" lengthAdjust="spacingAndGlyphs">MM 21.66</text></g>
<g id="dms-2340"><rect class="k" x="1258" y="848" width="75" height="189"/><text transform="translate(1304.5,942.5) rotate(-90)" class="dms" textLength="71" lengthAdjust="spacingAndGlyphs">GUL DMS</text><text x="1295" y="842.5" class="r lb m" textLength="80" lengthAdjust="spacingAndGlyphs">MM 23.40</text></g>
<g id="dms-el-2340"><rect class="k" x="1264" y="1066" width="58" height="141"/><text transform="translate(1304,1136.5) rotate(-90)" class="dms" textLength="60" lengthAdjust="spacingAndGlyphs">EL DMS</text></g>
<g id="dms-el-2397"><rect class="k" x="1520" y="1374" width="58" height="141"/><text transform="translate(1540,1445) rotate(90)" class="dms" textLength="60" lengthAdjust="spacingAndGlyphs">EL DMS</text><text x="1548" y="1541" class="r lb m" textLength="76" lengthAdjust="spacingAndGlyphs">MM 23.97</text></g>
<g id="dms-2556"><rect class="k" x="2317" y="885" width="74" height="187"/><text transform="translate(2363,978.5) rotate(-90)" class="dms" textLength="71" lengthAdjust="spacingAndGlyphs">GUL DMS</text><text x="2354" y="880" class="r lb m" textLength="76" lengthAdjust="spacingAndGlyphs">MM 25.56</text></g>

<!-- top-of-road price signs -->
<g id="sign-2299" transform="translate(997,852)">
<rect class="g" x="0" y="0" width="27.6" height="275.5" rx="3"/>
<rect class="p" x="29" y="0" width="40" height="274.4" rx="8"/>
<path class="n" d="M55.8 0H85.6Q94.6 0 94.6 9V265.4Q94.6 274.4 85.6 274.4H55.8Z"/>
<path class="dv" d="M55.5 0V274.4"/>
<text transform="translate(18.7,137) rotate(-90)" class="el" textLength="110" lengthAdjust="spacingAndGlyphs">EXPRESS LANES</text>
<use href="#only" transform="translate(32,98.4) rotate(-90)"/>
<use href="#sp" transform="translate(32,231) rotate(-90)"/>
<use href="#pr" transform="translate(67,66.6) rotate(-90)"/>
<text transform="translate(81,266.6) rotate(-90)" class="sg" textLength="114.6" lengthAdjust="spacingAndGlyphs">To Ives Dairy Rd</text>
</g>
<text id="label-2299" x="1058" y="845" class="r lb m" textLength="80" lengthAdjust="spacingAndGlyphs">MM 22.99</text>
<g id="sign-2407" transform="translate(1544.5,852)">
<rect class="g" x="0" y="0" width="27.6" height="275.5" rx="3"/>
<rect class="p" x="29" y="0" width="40" height="274.4" rx="8"/>
<path class="n" d="M55.8 0H85.6Q94.6 0 94.6 9V265.4Q94.6 274.4 85.6 274.4H55.8Z"/>
<path class="dv" d="M55.5 0V274.4"/>
<text transform="translate(18.7,137) rotate(-90)" class="el" textLength="110" lengthAdjust="spacingAndGlyphs">EXPRESS LANES</text>
<use href="#only" transform="translate(32,98.4) rotate(-90)"/>
<use href="#sp" transform="translate(32,231) rotate(-90)"/>
<use href="#pr" transform="translate(67,66.6) rotate(-90)"/>
<text transform="translate(81,266.6) rotate(-90)" class="sg" textLength="114.6" lengthAdjust="spacingAndGlyphs">To Ives Dairy Rd</text>
</g>
<text id="label-2407" x="1605" y="845" class="r lb m" textLength="80" lengthAdjust="spacingAndGlyphs">MM 24.07</text>

<!-- bottom signs -->
<g id="sign-2147" transform="translate(59,1563)">
<rect class="k" x="0" y="0" width="28" height="199.7"/>
<rect class="p" x="124" y="4.7" width="37" height="190.6" rx="8"/>
<path class="g" d="M134 4.7V195.3H39Q29.2 195.3 29.2 185V15Q29.2 4.7 39 4.7Z"/>
<path class="dv" d="M134 4.7V195.3"/>
<rect class="n" x="163" y="4.7" width="26.4" height="191" rx="3"/>
<use href="#only" transform="translate(158,119.7) rotate(90)"/>
<use href="#sp" transform="translate(158,27) rotate(90)"/>
<text transform="translate(7,100.5) rotate(90)" class="te" style="font-size:18px" textLength="101.6" lengthAdjust="spacingAndGlyphs">TOLLS ENFORCED</text>
<text transform="translate(170.8,100.7) rotate(90)" class="nt" textLength="81" lengthAdjust="spacingAndGlyphs">NO TRUCKS</text>
<text transform="translate(100.8,105) rotate(90)" class="big" textLength="81" lengthAdjust="spacingAndGlyphs">EXPRESS</text>
<text transform="translate(81.8,105) rotate(90)" class="big" textLength="59" lengthAdjust="spacingAndGlyphs">LANES</text>
<text transform="translate(62.8,105) rotate(90)" class="big" textLength="95" lengthAdjust="spacingAndGlyphs">ENTRANCE</text>
<text transform="translate(41,84.3) rotate(90)" style="fill:#fff;font-size:12px" textLength="42.7" lengthAdjust="spacingAndGlyphs">1 <tspan style="font-size:9px">MILE</tspan></text>
</g>
<text id="label-2147" x="154.3" y="1785" class="r lb m" textLength="76" lengthAdjust="spacingAndGlyphs">MM 21.47</text>

<g id="sign-2195" transform="translate(448.9,1561)">
<rect class="k" x="0" y="0" width="28" height="199.7"/>
<rect class="p" x="124" y="4.7" width="37" height="190.6" rx="8"/>
<path class="g" d="M134 4.7V195.3H39Q29.2 195.3 29.2 185V15Q29.2 4.7 39 4.7Z"/>
<path class="dv" d="M134 4.7V195.3"/>
<rect class="n" x="163" y="4.7" width="26.4" height="191" rx="3"/>
<use href="#only" transform="translate(158,119.7) rotate(90)"/>
<use href="#sp" transform="translate(158,27) rotate(90)"/>
<text transform="translate(7,100.5) rotate(90)" class="te" style="font-size:18px" textLength="101.6" lengthAdjust="spacingAndGlyphs">TOLLS ENFORCED</text>
<text transform="translate(170.8,100.7) rotate(90)" class="nt" textLength="81" lengthAdjust="spacingAndGlyphs">NO TRUCKS</text>
<text transform="translate(100.8,105) rotate(90)" class="big" textLength="81" lengthAdjust="spacingAndGlyphs">EXPRESS</text>
<text transform="translate(81.8,105) rotate(90)" class="big" textLength="59" lengthAdjust="spacingAndGlyphs">LANES</text>
<text transform="translate(62.8,105) rotate(90)" class="big" textLength="95" lengthAdjust="spacingAndGlyphs">ENTRANCE</text>
<text transform="translate(41,76.7) rotate(90)" style="fill:#fff;font-size:12px" textLength="49.3" lengthAdjust="spacingAndGlyphs">1/2 <tspan style="font-size:9px">MILE</tspan></text>
</g>
<text id="label-2195" x="544" y="1782.7" class="r lb m" textLength="76" lengthAdjust="spacingAndGlyphs">MM 21.95</text>

<g id="sign-2245" transform="translate(849,1561)">
<rect class="k" x="0" y="0" width="28" height="199.7"/>
<rect class="p" x="124" y="4.7" width="37.7" height="190.6" rx="8"/>
<path class="g" d="M134.3 4.7V195.3H39Q29.3 195.3 29.3 185V15Q29.3 4.7 39 4.7Z"/>
<path class="dv" d="M134.3 4.7V195.3"/>
<rect class="n" x="163" y="4.7" width="26.4" height="191" rx="3"/>
<use href="#only" transform="translate(158,119) rotate(90)"/>
<use href="#sp" transform="translate(158,27) rotate(90)"/>
<text transform="translate(7.7,99.8) rotate(90)" class="te" style="font-size:18px" textLength="101.6" lengthAdjust="spacingAndGlyphs">TOLLS ENFORCED</text>
<text transform="translate(171,100) rotate(90)" class="nt" textLength="81" lengthAdjust="spacingAndGlyphs">NO TRUCKS</text>
<text transform="translate(94.3,126) rotate(90)" class="big" textLength="81" lengthAdjust="spacingAndGlyphs">EXPRESS</text>
<text transform="translate(75,126) rotate(90)" class="big" textLength="59" lengthAdjust="spacingAndGlyphs">LANES</text>
<text transform="translate(56,126) rotate(90)" class="big" textLength="95" lengthAdjust="spacingAndGlyphs">ENTRANCE</text>
<use href="#ad" transform="translate(85.5,42.3) rotate(45) scale(1.25)" fill="#fff"/>
</g>
<text id="label-2245" x="944.3" y="1781.7" class="r lb m" textLength="80" lengthAdjust="spacingAndGlyphs">MM 22.45</text>

<g id="sign-2179" transform="translate(292.3,1560.7)">
<rect class="g" x="106.3" y="0" width="27.4" height="275.3" rx="3"/>
<rect class="p" x="65" y="0" width="39.7" height="275.3" rx="8"/>
<path class="n" d="M78 0H9Q0 0 0 9V266.3Q0 275.3 9 275.3H78Z"/>
<path class="dv" d="M78 0V275.3"/>
<use href="#only" transform="translate(102,177) rotate(90)"/>
<use href="#sp" transform="translate(102,44.3) rotate(90)"/>
<text transform="translate(115.4,138.3) rotate(90)" class="el" textLength="110" lengthAdjust="spacingAndGlyphs">EXPRESS LANES</text>
<text transform="translate(54.1,8.6) rotate(90)" class="sg" textLength="15" lengthAdjust="spacingAndGlyphs">To</text>
<use href="#s595" transform="translate(69.3,46.5) rotate(90)"/>
<text transform="translate(54.1,72) rotate(90)" class="sg" textLength="28" lengthAdjust="spacingAndGlyphs">West</text>
<text transform="translate(33.2,8.6) rotate(90)" class="sg" textLength="179.7" lengthAdjust="spacingAndGlyphs">To Broward Blvd Park-Ride</text>
<text transform="translate(12.7,8.6) rotate(90)" class="sg" textLength="145.7" lengthAdjust="spacingAndGlyphs">To Oakland Park Blvd</text>
<use href="#pr" transform="translate(26.5,209.3) rotate(90)"/>
<use href="#pr" transform="translate(47,209.3) rotate(90)"/>
<use href="#pr" transform="translate(68,209.3) rotate(90)"/>
</g>
<text id="label-2179" x="346.4" y="1857.7" class="r lb m" textLength="76" lengthAdjust="spacingAndGlyphs">MM 21.79</text>

<g id="sign-2230" transform="translate(682.7,1560.7)">
<rect class="g" x="105.6" y="0" width="27.4" height="275.3" rx="3"/>
<rect class="p" x="65" y="0" width="39" height="275.3" rx="8"/>
<path class="n" d="M77.3 0H9Q0 0 0 9V266.3Q0 275.3 9 275.3H77.3Z"/>
<path class="dv" d="M77.3 0V275.3"/>
<use href="#only" transform="translate(101.5,177) rotate(90)"/>
<use href="#sp" transform="translate(101.5,44.3) rotate(90)"/>
<text transform="translate(114,138.3) rotate(90)" class="el" textLength="110" lengthAdjust="spacingAndGlyphs">EXPRESS LANES</text>
<text transform="translate(53.6,8.6) rotate(90)" class="sg" textLength="15" lengthAdjust="spacingAndGlyphs">To</text>
<use href="#s595" transform="translate(68.8,46.5) rotate(90)"/>
<text transform="translate(53.6,72) rotate(90)" class="sg" textLength="28" lengthAdjust="spacingAndGlyphs">West</text>
<text transform="translate(32.7,8.6) rotate(90)" class="sg" textLength="179.7" lengthAdjust="spacingAndGlyphs">To Broward Blvd Park-Ride</text>
<text transform="translate(12.2,8.6) rotate(90)" class="sg" textLength="145.7" lengthAdjust="spacingAndGlyphs">To Oakland Park Blvd</text>
<use href="#pr" transform="translate(26.3,209.3) rotate(90)"/>
<use href="#pr" transform="translate(46.5,209.3) rotate(90)"/>
<use href="#pr" transform="translate(67.3,209.3) rotate(90)"/>
</g>
<text id="label-2230" x="735.7" y="1858.3" class="r lb m" textLength="80" lengthAdjust="spacingAndGlyphs">MM 22.30</text>

<g id="map-corner">
<path d="M2765 1867L2782 1856L2796 1843L2800 1847L2818 1838L2824 1833L2826 1810L2829 1790L2828 1783L2837 1782V1867Z" fill="#66b266" stroke="#000" stroke-width="1.5"/>
<path d="M2766 1812.3L2820 1822.3L2781 1829.3Z" fill="#000"/>
<ellipse cx="2829" cy="1825" rx="9" ry="14" fill="#fff" stroke="#000" stroke-width="1.5"/>
<path d="M2823 1818H2837M2824 1831L2837 1821" stroke="#000" stroke-width="1.2"/>
</g>
</svg>
